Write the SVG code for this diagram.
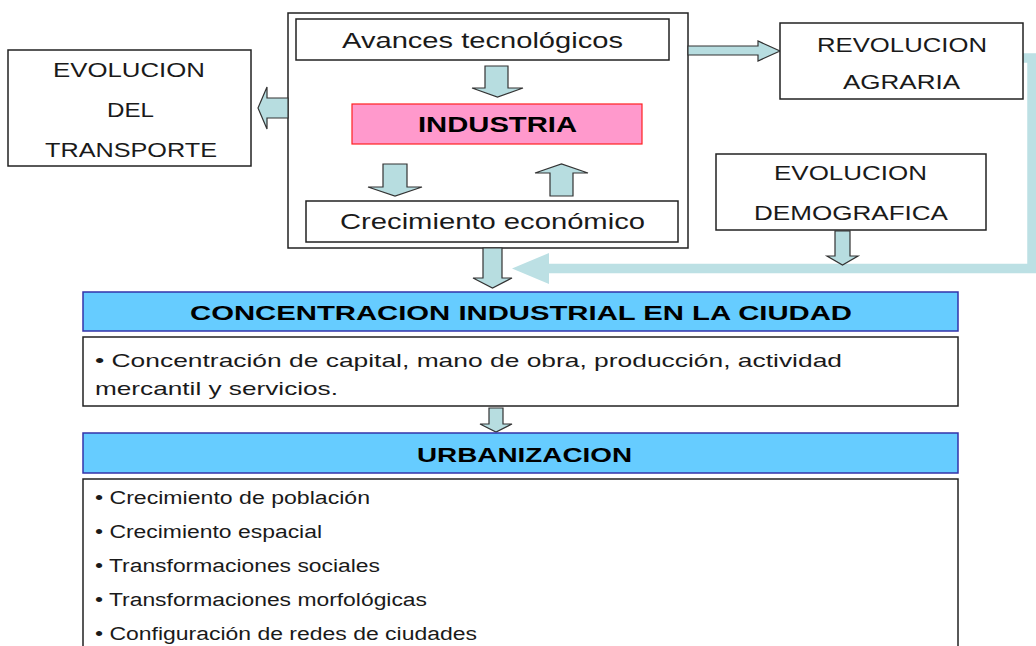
<svg xmlns="http://www.w3.org/2000/svg" width="1036" height="646" viewBox="0 0 1036 646">
<style>
text{font-family:"Liberation Sans",Arial,sans-serif;fill:#1a1a1a}
.box{fill:#fff;stroke:#222;stroke-width:1.5}
.bar{fill:#66CCFF;stroke:#3333AA;stroke-width:1.5}
.arr{fill:#B7DDE0;stroke:#333;stroke-width:1.2;stroke-linejoin:miter}
.t22{font-size:22px}
.t20{font-size:20px}
.t19{font-size:19px}
.t18{font-size:18px}
.b{font-weight:bold;fill:#000}
</style>
<rect width="1036" height="646" fill="#fff"/>

<g id="outer">
  <rect class="box" x="288" y="13" width="400" height="235"/>
</g>

<g id="connectors">
  <path d="M1023,58 H1032 V268.5 H548" fill="none" stroke="#BCE0E4" stroke-width="9.5"/>
  <polygon points="549,253 512,268.5 549,284" fill="#BCE0E4"/>
  <polygon class="arr" points="485,66 508,66 508,88 523,88 497.5,97 472,88 485,88"/>
  <polygon class="arr" points="383,164 407,164 407,187 422,187 395,196 368,187 383,187"/>
  <polygon class="arr" points="550,196 573,196 573,173 588,173 561.5,164 535,173 550,173"/>
  <polygon class="arr" points="288,98 267,98 267,87 258,108 267,129 267,118 288,118"/>
  <polygon class="arr" points="688,46 758,46 758,41 780,51 758,61 758,55 688,55"/>
  <polygon class="arr" points="835,231 850,231 850,256 858,256 842.5,265 827,256 835,256"/>
  <polygon class="arr" points="483,248 502,248 502,278 512,278 492.5,288 473,278 483,278"/>
  <polygon class="arr" points="489,408 503,408 503,424 512,424 496,432 480,424 489,424"/>
</g>

<g id="avances">
  <rect class="box" x="296" y="19" width="373" height="41"/>
  <text class="t22" x="342" y="48" textLength="281" lengthAdjust="spacingAndGlyphs">Avances tecnológicos</text>
</g>
<g id="industria">
  <rect x="352" y="104" width="290" height="40" fill="#FF99CC" stroke="#FF2020" stroke-width="1.2"/>
  <text class="t22 b" x="418" y="132" textLength="159" lengthAdjust="spacingAndGlyphs">INDUSTRIA</text>
</g>
<g id="crecimiento">
  <rect class="box" x="306" y="201" width="372" height="41"/>
  <text class="t22" x="340" y="229" textLength="305" lengthAdjust="spacingAndGlyphs">Crecimiento económico</text>
</g>
<g id="transporte">
  <rect class="box" x="8" y="50" width="243" height="116"/>
  <text class="t20" x="53" y="77" textLength="152" lengthAdjust="spacingAndGlyphs">EVOLUCION</text>
  <text class="t20" x="107" y="117" textLength="47" lengthAdjust="spacingAndGlyphs">DEL</text>
  <text class="t20" x="45" y="157" textLength="172" lengthAdjust="spacingAndGlyphs">TRANSPORTE</text>
</g>
<g id="agraria">
  <rect class="box" x="780" y="23" width="243" height="76"/>
  <text class="t20" x="817" y="52" textLength="170" lengthAdjust="spacingAndGlyphs">REVOLUCION</text>
  <text class="t20" x="843" y="89" textLength="117" lengthAdjust="spacingAndGlyphs">AGRARIA</text>
</g>
<g id="demografica">
  <rect class="box" x="716" y="154" width="270" height="76"/>
  <text class="t20" x="774" y="180" textLength="153" lengthAdjust="spacingAndGlyphs">EVOLUCION</text>
  <text class="t20" x="754" y="220" textLength="194" lengthAdjust="spacingAndGlyphs">DEMOGRAFICA</text>
</g>
<g id="concentracion">
  <rect class="bar" x="83" y="292" width="875" height="39"/>
  <text class="t20 b" x="190" y="320" textLength="662" lengthAdjust="spacingAndGlyphs">CONCENTRACION INDUSTRIAL EN LA CIUDAD</text>
</g>
<g id="concentracion-body">
  <rect class="box" x="83" y="337" width="875" height="69"/>
  <text class="t19" x="95" y="367" textLength="747" lengthAdjust="spacingAndGlyphs">• Concentración de capital, mano de obra, producción, actividad</text>
  <text class="t19" x="95" y="395" textLength="243" lengthAdjust="spacingAndGlyphs">mercantil y servicios.</text>
</g>
<g id="urbanizacion">
  <rect class="bar" x="83" y="433" width="875" height="40"/>
  <text class="t20 b" x="417" y="462" textLength="215" lengthAdjust="spacingAndGlyphs">URBANIZACION</text>
</g>
<g id="urbanizacion-body">
  <rect class="box" x="83" y="479" width="875" height="180"/>
  <text class="t18" x="95" y="504" textLength="275" lengthAdjust="spacingAndGlyphs">• Crecimiento de población</text>
  <text class="t18" x="95" y="538" textLength="227" lengthAdjust="spacingAndGlyphs">• Crecimiento espacial</text>
  <text class="t18" x="95" y="572" textLength="285" lengthAdjust="spacingAndGlyphs">• Transformaciones sociales</text>
  <text class="t18" x="95" y="606" textLength="332" lengthAdjust="spacingAndGlyphs">• Transformaciones morfológicas</text>
  <text class="t18" x="95" y="640" textLength="382" lengthAdjust="spacingAndGlyphs">• Configuración de redes de ciudades</text>
</g>
</svg>
